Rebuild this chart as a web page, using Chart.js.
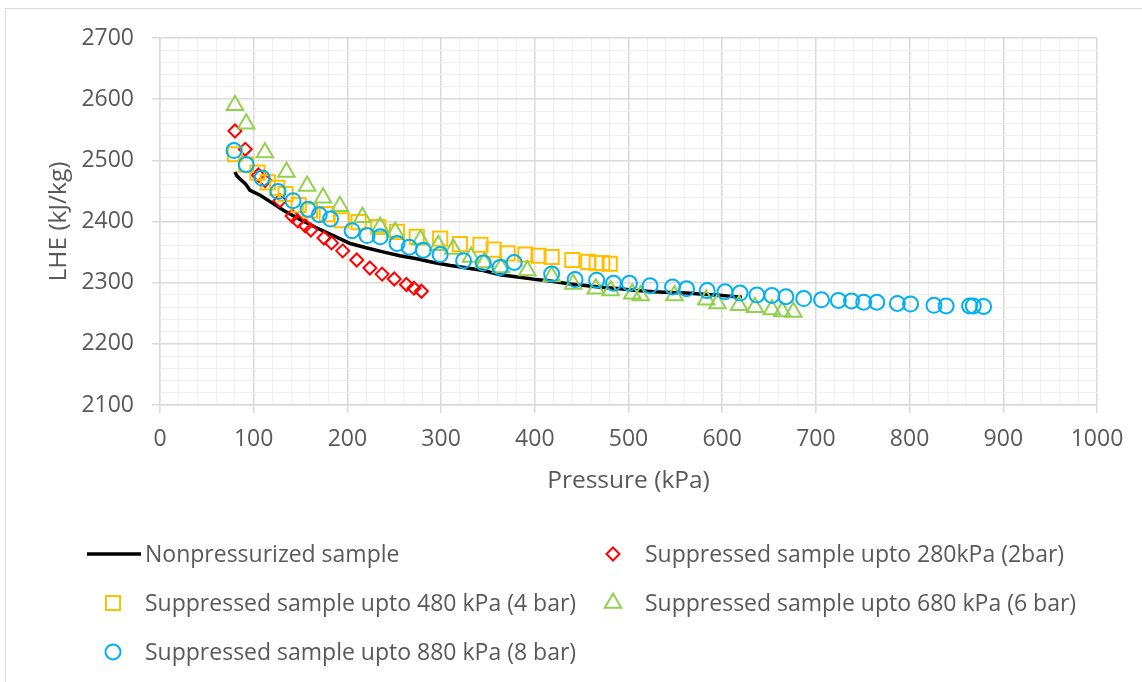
<!DOCTYPE html>
<html>
<head>
<meta charset="utf-8">
<title>LHE vs Pressure</title>
<script src="https://cdn.jsdelivr.net/npm/chart.js@4.4.0/dist/chart.umd.min.js"></script>
<style>
    html, body { margin: 0; padding: 0; background: #fff; }
    #wrap { width: 1142px; height: 682px; }
</style>
</head>
<body>
<div id="wrap"><canvas id="lheChart" width="1142" height="682"></canvas></div>
<script>
// Series names
const seriesNames = [
    'Nonpressurized sample',
    'Suppressed sample upto 280kPa (2bar)',
    'Suppressed sample upto 480 kPa (4 bar)',
    'Suppressed sample upto 680 kPa (6 bar)',
    'Suppressed sample upto 880 kPa (8 bar)'
];

// Nonpressurized sample (continuous curve)
const nonPressP = [80, 82, 85, 91, 96, 107, 120, 132, 150, 168, 185, 203, 220, 239, 256, 274, 292, 310, 328, 345, 363, 384, 402, 420, 438, 456, 474, 491, 509, 527, 545, 562, 580, 594, 608, 621];
const nonPressLHE = [2481, 2475, 2470, 2462, 2451, 2443, 2430, 2418, 2403, 2389, 2377, 2364, 2357, 2350, 2344, 2339, 2333, 2328, 2324, 2320, 2313, 2309, 2305, 2302, 2298, 2295, 2292, 2290, 2287, 2285, 2284, 2283, 2281, 2280, 2278, 2276];

// Suppressed up to 280 kPa (2 bar)
const bar2P = [80, 91, 105, 112, 128, 141, 147, 155, 161, 175, 183, 195, 210, 224, 237, 250, 263, 271, 279];
const bar2LHE = [2548, 2518, 2476, 2467, 2434, 2409, 2401, 2393, 2386, 2373, 2365, 2352, 2337, 2324, 2314, 2306, 2297, 2291, 2286];

// Suppressed up to 480 kPa (4 bar)
const bar4P = [80, 92, 104, 115, 125, 134, 148, 160, 178, 194, 212, 233, 253, 274, 299, 320, 342, 356, 371, 390, 404, 418, 440, 457, 466, 472, 480];
const bar4LHE = [2510, 2493, 2480, 2464, 2455, 2445, 2427, 2418, 2412, 2402, 2399, 2391, 2383, 2375, 2372, 2363, 2362, 2354, 2348, 2346, 2344, 2342, 2337, 2334, 2332, 2332, 2331];

// Suppressed up to 680 kPa (6 bar)
const bar6P = [80, 92, 112, 135, 157, 174, 192, 216, 235, 251, 278, 297, 313, 332, 346, 364, 392, 418, 441, 465, 481, 504, 513, 549, 583, 595, 618, 635, 653, 664, 676];
const bar6LHE = [2590, 2560, 2513, 2481, 2458, 2439, 2425, 2407, 2391, 2383, 2370, 2361, 2355, 2342, 2333, 2325, 2320, 2310, 2298, 2290, 2287, 2282, 2279, 2279, 2272, 2266, 2263, 2260, 2256, 2253, 2252];

// Suppressed up to 880 kPa (8 bar)
const bar8P = [79, 92, 109, 126, 142, 158, 170, 182, 205, 221, 235, 253, 266, 281, 299, 324, 345, 363, 378, 418, 443, 466, 484, 501, 523, 547, 562, 584, 603, 619, 637, 653, 668, 687, 706, 724, 738, 751, 765, 787, 801, 826, 839, 864, 868, 879];
const bar8LHE = [2516, 2493, 2471, 2449, 2434, 2420, 2411, 2404, 2385, 2377, 2375, 2364, 2358, 2353, 2346, 2336, 2332, 2325, 2333, 2314, 2305, 2304, 2299, 2299, 2295, 2293, 2290, 2287, 2285, 2283, 2280, 2279, 2277, 2274, 2272, 2271, 2270, 2268, 2268, 2266, 2265, 2263, 2262, 2262, 2262, 2261];

// Axis ranges and label step
const xMin = 0, xMax = 1000;
const yMin = 2100, yMax = 2700;
const labelStep = 100;
const minorStep = 20;

const textColor = '#595959';
const majorGrid = '#d9d9d9';
const minorGrid = '#efefef';
const fontFamily = '"Open Sans", "Noto Sans", sans-serif';
const legendFontSize = 23;
const tickFontSize = 23;
const titleFontSize = 24.5;

const seriesStyles = [
    { color: '#000000', style: 'line' },
    { color: '#FF0000', style: 'rectRot', radius: 6.5 },
    { color: '#FFC000', style: 'rect', radius: 10 },
    { color: '#92D050', style: 'triangle', radius: 9.5 },
    { color: '#00B0F0', style: 'circle', radius: 7.5 }
];

function toPoints(xs, ys) {
    return xs.map((x, i) => ({ x: x, y: ys[i] }));
}

const seriesData = [
    toPoints(nonPressP, nonPressLHE),
    toPoints(bar2P, bar2LHE),
    toPoints(bar4P, bar4LHE),
    toPoints(bar6P, bar6LHE),
    toPoints(bar8P, bar8LHE)
];

const isMajor = v => Math.round(v) % labelStep === 0;

// Draw an open marker (used for the legend keys)
function drawMarker(ctx, style, x, y, r) {
    ctx.beginPath();
    if (style === 'circle') {
        ctx.arc(x, y, r, 0, Math.PI * 2);
    } else if (style === 'rect') {
        const h = r * Math.SQRT1_2;
        ctx.rect(x - h, y - h, 2 * h, 2 * h);
    } else if (style === 'rectRot') {
        ctx.moveTo(x, y - r);
        ctx.lineTo(x + r, y);
        ctx.lineTo(x, y + r);
        ctx.lineTo(x - r, y);
        ctx.closePath();
    } else if (style === 'triangle') {
        for (let k = 0; k < 3; k++) {
            const a = k * 2 * Math.PI / 3;
            const px = x + Math.sin(a) * r;
            const py = y - Math.cos(a) * r;
            if (k === 0) ctx.moveTo(px, py); else ctx.lineTo(px, py);
        }
        ctx.closePath();
    }
    ctx.stroke();
}

// White background and the thin frame around the chart
const framePlugin = {
    id: 'frame',
    beforeDraw(chart) {
        const ctx = chart.ctx;
        ctx.save();
        ctx.fillStyle = '#ffffff';
        ctx.fillRect(0, 0, chart.width, chart.height);
        ctx.strokeStyle = '#d9d9d9';
        ctx.lineWidth = 1;
        ctx.strokeRect(5.5, 8.5, 2000, 2000);
        ctx.restore();
    }
};

// Two-column legend below the axis title
const legendSlots = [
    { x: 113, y: 554 },
    { x: 613, y: 554 },
    { x: 113, y: 603 },
    { x: 613, y: 603 },
    { x: 113, y: 652 }
];

const legendPlugin = {
    id: 'sideLegend',
    afterDraw(chart) {
        const ctx = chart.ctx;
        ctx.save();
        ctx.font = legendFontSize + 'px ' + fontFamily;
        ctx.textBaseline = 'middle';
        seriesNames.forEach((name, i) => {
            const slot = legendSlots[i];
            const st = seriesStyles[i];
            ctx.strokeStyle = st.color;
            if (st.style === 'line') {
                ctx.lineWidth = 3.5;
                ctx.beginPath();
                ctx.moveTo(slot.x - 26, slot.y);
                ctx.lineTo(slot.x + 28, slot.y);
                ctx.stroke();
            } else {
                ctx.lineWidth = 2;
                drawMarker(ctx, st.style, slot.x, slot.y, st.radius);
            }
            ctx.fillStyle = textColor;
            ctx.fillText(name, slot.x + 32, slot.y + 1);
        });
        ctx.restore();
    }
};

const datasets = seriesNames.map((name, i) => {
    const st = seriesStyles[i];
    if (st.style === 'line') {
        return {
            label: name,
            data: seriesData[i],
            showLine: true,
            borderColor: st.color,
            borderWidth: 3.5,
            pointRadius: 0,
            tension: 0,
            fill: false,
            order: 10
        };
    }
    return {
        label: name,
        data: seriesData[i],
        showLine: false,
        pointStyle: st.style,
        pointRadius: st.radius,
        pointHoverRadius: st.radius,
        borderColor: st.color,
        backgroundColor: 'rgba(0,0,0,0)',
        borderWidth: 2,
        order: 10 - i
    };
});

Chart.defaults.font.family = fontFamily;
Chart.defaults.color = textColor;

new Chart(document.getElementById('lheChart'), {
    type: 'scatter',
    data: { datasets: datasets },
    options: {
        responsive: false,
        animation: false,
        layout: { padding: { left: 0, right: 45, top: 38, bottom: 182 } },
        plugins: {
            legend: { display: false },
            tooltip: { enabled: false }
        },
        scales: {
            x: {
                type: 'linear',
                min: xMin,
                max: xMax,
                afterFit: scale => { scale.height = 95; },
                ticks: {
                    stepSize: minorStep,
                    autoSkip: false,
                    maxRotation: 0,
                    padding: 13,
                    color: textColor,
                    font: { size: tickFontSize },
                    callback: v => isMajor(v) ? String(Math.round(v)) : ''
                },
                grid: {
                    color: c => isMajor(c.tick.value) ? majorGrid : minorGrid,
                    lineWidth: c => isMajor(c.tick.value) ? 1.5 : 1,
                    tickLength: 8,
                    tickColor: c => isMajor(c.tick.value) ? majorGrid : 'rgba(0,0,0,0)'
                },
                border: { color: majorGrid, width: 1.5 },
                title: {
                    display: true,
                    text: 'Pressure (kPa)',
                    color: textColor,
                    font: { size: titleFontSize },
                    padding: { top: 0, bottom: 4 }
                }
            },
            y: {
                type: 'linear',
                min: yMin,
                max: yMax,
                afterFit: scale => { scale.width = 160; },
                ticks: {
                    stepSize: minorStep,
                    autoSkip: false,
                    padding: 18,
                    color: textColor,
                    font: { size: tickFontSize },
                    callback: v => isMajor(v) ? String(Math.round(v)) : ''
                },
                grid: {
                    color: c => isMajor(c.tick.value) ? majorGrid : minorGrid,
                    lineWidth: c => isMajor(c.tick.value) ? 1.5 : 1,
                    tickLength: 8,
                    tickColor: c => isMajor(c.tick.value) ? majorGrid : 'rgba(0,0,0,0)'
                },
                border: { color: majorGrid, width: 1.5 },
                title: {
                    display: true,
                    text: 'LHE (kJ/kg)',
                    color: textColor,
                    font: { size: titleFontSize },
                    padding: { top: 44, bottom: 0 }
                }
            }
        }
    },
    plugins: [framePlugin, legendPlugin]
});
</script>
</body>
</html>
